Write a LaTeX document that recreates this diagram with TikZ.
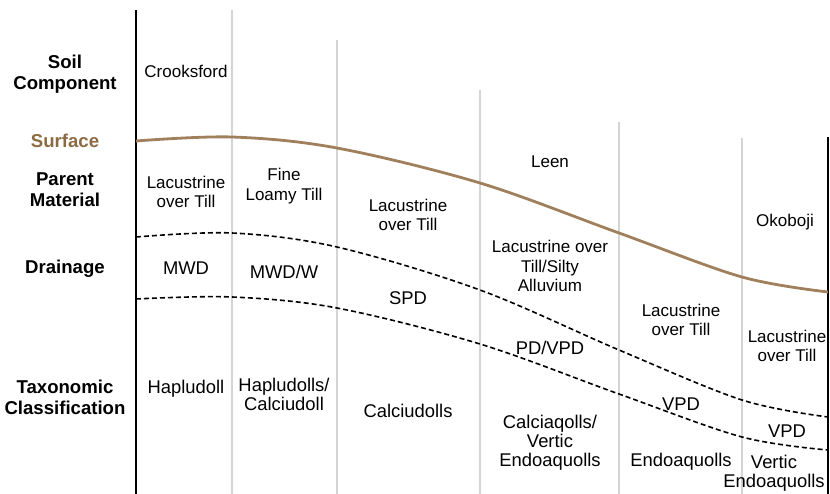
\documentclass[tikz,border=0pt]{standalone}
\usepackage{fontspec}
\setmainfont{Liberation Sans}
\definecolor{surf}{RGB}{160,128,92}
\definecolor{surftxt}{RGB}{140,106,66}
\definecolor{grid}{RGB}{212,212,212}
\begin{document}
\begin{tikzpicture}[x=1pt,y=-1pt,
  lbl/.style={font=\fontsize{18.6}{21}\selectfont\bfseries, align=center, inner sep=0pt},
  txt/.style={font=\fontsize{17}{19.5}\selectfont, align=center, inner sep=0pt},
  txtb/.style={font=\fontsize{18.4}{19}\selectfont, align=center, inner sep=0pt},
  gridline/.style={draw=grid, line width=1.2pt},
  axis/.style={draw=black, line width=2.6pt},
  surfline/.style={draw=surf, line width=2.8pt},
  bound/.style={draw=black, line width=1.6pt, dash pattern=on 5pt off 3pt}]
\useasboundingbox (0,0) rectangle (830,494);
% gray column lines
\draw[gridline] (232,10) -- (232,494);
\draw[gridline] (337,40) -- (337,494);
\draw[gridline] (480,90) -- (480,494);
\draw[gridline] (619,122) -- (619,494);
\draw[gridline] (742,138) -- (742,494);
% black axes
\draw[axis] (136,10) -- (136,494);
\draw[axis] (828,137) -- (828,494);
% surface
\draw[surfline] plot[smooth, tension=0.55] coordinates {(136,141) (232,137) (337,148) (480,183) (619,233) (742,277) (828,292)};
% drainage boundaries
\draw[bound] plot[smooth, tension=0.55] coordinates {(136,237) (232,233) (337,247) (480,290) (619,350) (742,400) (828,417)};
\draw[bound] plot[smooth, tension=0.55] coordinates {(136,299) (232,297) (337,308) (480,344) (619,394) (742,437) (828,450)};
% row labels
\node[lbl] (l1) at (65,74) {Soil\\Component};
\node[lbl, text=surftxt] (l2) at (65,141) {Surface};
\node[lbl] (l3) at (65,190) {Parent\\Material};
\node[lbl] (l4) at (65,269) {Drainage};
\node[lbl] (l5) at (65,397) {Taxonomic\\Classification};
% soil components
\node[txt] (c1) at (186,71) {Crooksford};
\node[txt] (c2) at (550,162) {Leen};
\node[txt] (c3) at (785,222) {Okoboji};
% parent material
\node[txt] (p1) at (186,192) {Lacustrine\\over Till};
\node[txt] (p2) at (284,186) {Fine\\Loamy Till};
\node[txt] (p3) at (408,215) {Lacustrine\\over Till};
\node[txt] (p4) at (550,266) {Lacustrine over\\Till/Silty\\Alluvium};
\node[txt] (p5) at (681,320) {Lacustrine\\over Till};
\node[txt] (p6) at (787,346) {Lacustrine\\over Till};
% drainage
\node[txtb] (d1) at (186,268) {MWD};
\node[txtb] (d2) at (284,272) {MWD/W};
\node[txtb] (d3) at (408,298) {SPD};
\node[txtb] (d4) at (550,348) {PD/VPD};
\node[txtb] (d5) at (681,404) {VPD};
\node[txtb] (d6) at (787,431) {VPD};
% taxonomy
\node[txtb] (t1) at (186,389) {Hapludoll};
\node[txtb] (t2) at (284,394) {Hapludolls/\\Calciudoll};
\node[txtb] (t3) at (408,411) {Calciudolls};
\node[txtb] (t4) at (550,443) {Calciaqolls/\\Vertic\\Endoaquolls};
\node[txtb] (t5) at (681,462) {Endoaquolls};
\node[txtb] (t6) at (774,473) {Vertic\\Endoaquolls};
\end{tikzpicture}
\end{document}
